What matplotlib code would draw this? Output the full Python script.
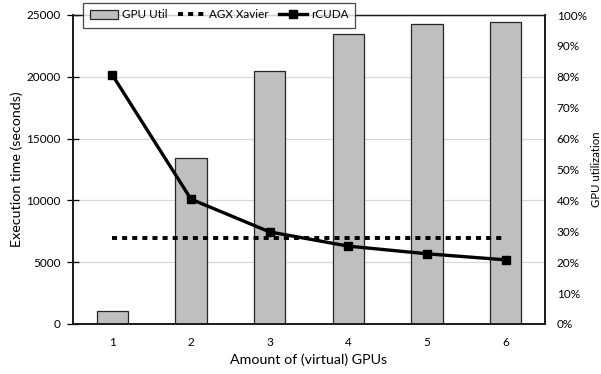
import matplotlib
matplotlib.use("Agg")
import matplotlib.pyplot as plt
import numpy as np
from matplotlib.ticker import FuncFormatter

plt.rcParams['font.family'] = ['Lato', 'DejaVu Sans']

gpus = [1, 2, 3, 4, 5, 6]
gpu_util = [4.1, 53.6, 81.8, 94.0, 97.2, 97.8]          # percent
agx_xavier = [6950, 6950, 6950, 6950, 6950, 6950]       # seconds
rcuda = [20150, 10100, 7450, 6300, 5680, 5190]          # seconds
time_ticks = [0, 5000, 10000, 15000, 20000, 25000]
util_ticks = list(range(0, 101, 10))

fig = plt.figure(figsize=(6.01, 3.74), dpi=100)
ax = fig.add_axes([73/601, 1-324/374, 472/601, 309/374])
ax2 = ax.twinx()
ax.set_zorder(ax2.get_zorder() + 1)
ax.patch.set_visible(False)

fs = 8.5      # tick labels
lfs = 10.3    # axis titles
gfs = 8.4     # legend / right title
x = np.array(gpus)

# horizontal gridlines at the time-axis ticks, drawn behind the bars
for t in time_ticks[1:]:
    ax2.axhline(t / time_ticks[-1] * 100, color='#d9d9d9', lw=0.9, zorder=0)

bars = ax2.bar(x, gpu_util, width=0.40, color='#bfbfbf', edgecolor='#262626',
               linewidth=0.9, zorder=2, label='GPU Util')
ax2.set_ylim(0, 100)
ax2.set_yticks(util_ticks)
ax2.yaxis.set_major_formatter(FuncFormatter(lambda v, p: f"{int(v)}%"))
ax2.tick_params(axis='y', length=0, labelsize=fs, pad=8.5)
ax2.set_ylabel('GPU utilization', fontsize=8.2, labelpad=3)

l1, = ax.plot(x, agx_xavier, color='black', lw=2.8, linestyle=(0, (1.3, 1.3)),
              dash_capstyle='butt', label='AGX Xavier', zorder=3)
l2, = ax.plot(x, rcuda, color='black', lw=2.4, marker='s', markersize=6,
              label='rCUDA', zorder=4)
ax.set_xlim(0.5, 6.5)
ax.set_ylim(0, 25000)
ax.set_yticks(time_ticks)
ax.set_xticks(gpus)
ax.tick_params(axis='y', direction='inout', length=8, width=0.9, labelsize=fs, pad=5)
ax.tick_params(axis='x', length=0, labelsize=fs, pad=9)
ax.set_xlabel('Amount of (virtual) GPUs', fontsize=lfs, labelpad=4)
ax.set_ylabel('Execution time (seconds)', fontsize=lfs, labelpad=2)

for a in (ax, ax2):
    for s in a.spines.values():
        s.set_color('#1a1a1a')
        s.set_linewidth(1.2)
ax2.spines['top'].set_linewidth(0.9)
ax.spines['top'].set_linewidth(0.9)

leg = fig.legend(handles=[bars, l1, l2], loc='upper left',
                 bbox_to_anchor=(83/601, 1-2.5/374), ncol=3, fontsize=gfs,
                 frameon=True, fancybox=False, edgecolor='#1a1a1a',
                 handlelength=2.4, handletextpad=0.3, columnspacing=0.9,
                 borderpad=0.6, borderaxespad=0)
leg.get_frame().set_linewidth(0.9)
leg.set_zorder(10)

fig.savefig('out.png', dpi=100)
